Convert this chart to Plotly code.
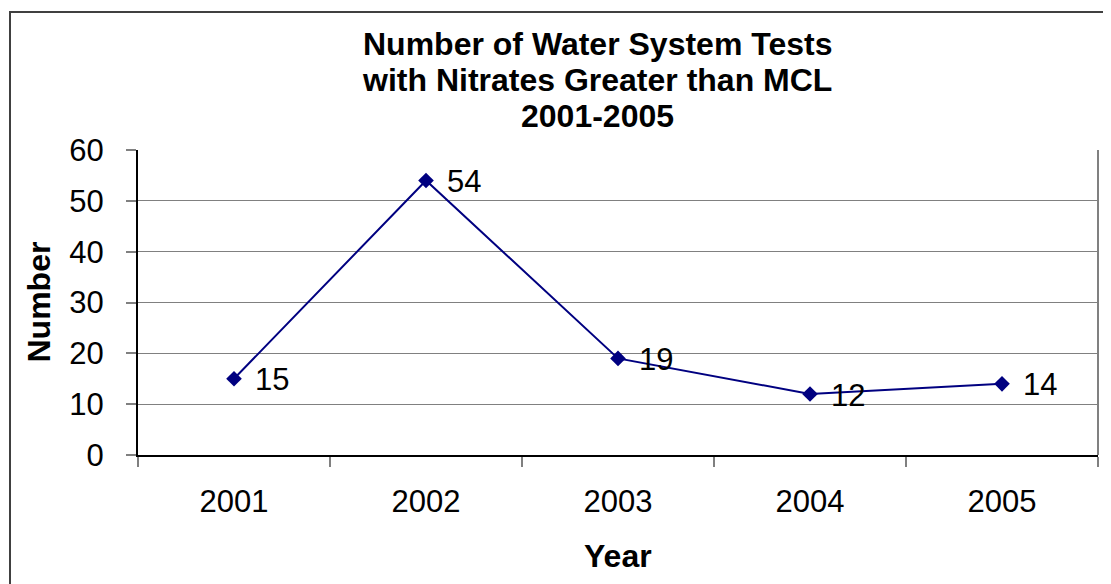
import plotly.graph_objects as go

years = ["2001", "2002", "2003", "2004", "2005"]
counts = [15, 54, 19, 12, 14]
y_ticks = [0, 10, 20, 30, 40, 50, 60]
title_lines = ["Number of Water System Tests", "with Nitrates Greater than MCL", "2001-2005"]

W, H = 1111, 584
OFF = 8  # page body margin: screen pixel = figure pixel + OFF
# plot area in screen pixels
X0, X1, Y0, Y1 = 138, 1098, 150, 455
L = X0 - OFF
R = W - (X1 - OFF)
T = Y0 - OFF
B = H - (Y1 - OFF)


def px(x):
    return (x - X0) / (X1 - X0)


def py(y):
    return (Y1 - y) / (Y1 - Y0)


FONT = "Liberation Sans, Arial, sans-serif"
NAVY = "#000080"
GRAY = "#808080"
NUM_SIZE = 31
TITLE_SIZE = 32

fig = go.Figure()
fig.add_trace(go.Scatter(
    x=years, y=counts,
    mode="lines+markers",
    line=dict(color=NAVY, width=2),
    marker=dict(symbol="diamond", size=12, color=NAVY),
    cliponaxis=False,
    showlegend=False,
    hoverinfo="skip",
))

annotations = []
for i, v in enumerate(counts):
    annotations.append(dict(
        text=str(v), x=i, y=v, xref="x", yref="y",
        xanchor="left", yanchor="middle", xshift=19, yshift=-1, showarrow=False,
        font=dict(family=FONT, size=NUM_SIZE, color="black"),
    ))
for line, yc in zip(title_lines, [44, 80, 116]):
    annotations.append(dict(
        text="<b>%s</b>" % line, x=px(597), y=py(yc), xref="paper", yref="paper",
        xanchor="center", yanchor="middle", showarrow=False,
        font=dict(family=FONT, size=TITLE_SIZE, color="black"),
    ))
annotations.append(dict(
    text="<b>Year</b>", x=px(618), y=py(556), xref="paper", yref="paper",
    xanchor="center", yanchor="middle", showarrow=False,
    font=dict(family=FONT, size=TITLE_SIZE, color="black"),
))
annotations.append(dict(
    text="<b>Number</b>", x=px(38), y=py(302.5), xref="paper", yref="paper",
    xanchor="center", yanchor="middle", showarrow=False, textangle=-90,
    font=dict(family=FONT, size=TITLE_SIZE, color="black"),
))

shapes = [
    # outer chart border (left and top edges visible)
    dict(type="rect", xref="paper", yref="paper",
         x0=px(10), x1=px(1140), y0=py(12), y1=py(620),
         line=dict(color="#404040", width=2), layer="below"),
    # right border of plot area
    dict(type="line", xref="paper", yref="paper",
         x0=1, x1=1, y0=0, y1=1, line=dict(color=GRAY, width=2)),
]

fig.update_layout(
    width=W, height=H,
    margin=dict(l=L, r=R, t=T, b=B, pad=0),
    paper_bgcolor="white", plot_bgcolor="white",
    font=dict(family=FONT, size=NUM_SIZE, color="black"),
    annotations=annotations,
    shapes=shapes,
)
fig.update_xaxes(
    type="category", range=[-0.5, 4.5],
    tickson="boundaries", ticks="outside", ticklen=10, tickwidth=2, tickcolor=GRAY,
    showgrid=False, showline=True, linecolor="black", linewidth=2,
    tickfont=dict(family=FONT, size=NUM_SIZE, color="black"),
    ticklabelstandoff=18, zeroline=False,
)
fig.update_yaxes(
    range=[0, 60], tickvals=y_ticks, ticktext=[str(v) for v in y_ticks],
    ticks="outside", ticklen=10, tickwidth=2, tickcolor=GRAY,
    showgrid=True, gridcolor=GRAY, gridwidth=1,
    showline=True, linecolor="black", linewidth=2,
    tickfont=dict(family=FONT, size=NUM_SIZE, color="black"),
    ticklabelstandoff=16, zeroline=False,
)

fig.write_html("out.html")
